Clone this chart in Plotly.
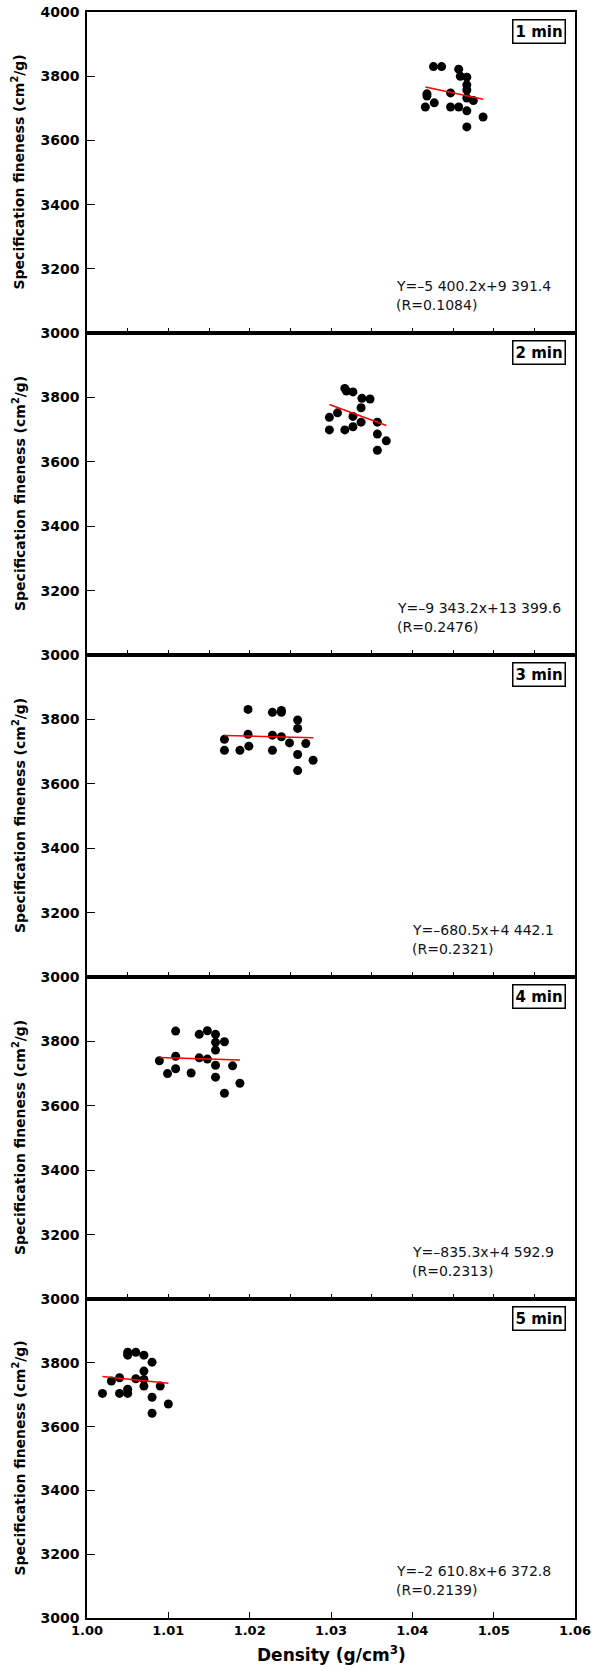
import plotly.graph_objects as go

# ---------------- data ----------------
panel_labels = ["1 min", "2 min", "3 min", "4 min", "5 min"]

dens_1min = [1.0426, 1.0436, 1.0457, 1.0459, 1.0467, 1.0467, 1.0467, 1.0418, 1.0418, 1.0447,
             1.0467, 1.0475, 1.0427, 1.0416, 1.0447, 1.0457, 1.0467, 1.0487, 1.0467]
fine_1min = [3830, 3830, 3822, 3800, 3797, 3773, 3757, 3745, 3738, 3748,
             3732, 3724, 3717, 3704, 3704, 3704, 3692, 3673, 3642]

dens_2min = [1.0317, 1.0319, 1.0327, 1.0338, 1.0348, 1.0337, 1.0298, 1.0308, 1.0327, 1.0337,
             1.0357, 1.0298, 1.0317, 1.0327, 1.0357, 1.0368, 1.0357]
fine_2min = [3828, 3820, 3817, 3797, 3795, 3768, 3738, 3752, 3741, 3723,
             3723, 3699, 3699, 3709, 3686, 3665, 3636]

dens_3min = [1.0198, 1.0228, 1.0239, 1.0239, 1.0259, 1.0259, 1.0169, 1.0198, 1.0228, 1.0239,
             1.0249, 1.0269, 1.0169, 1.0188, 1.0199, 1.0228, 1.0259, 1.0278, 1.0259]
fine_3min = [3831, 3822, 3828, 3822, 3798, 3772, 3738, 3754, 3751, 3746,
             3727, 3725, 3704, 3704, 3717, 3704, 3691, 3673, 3641]

dens_4min = [1.0109, 1.0138, 1.0148, 1.0158, 1.0158, 1.0169, 1.0158, 1.0089, 1.0109, 1.0138,
             1.0148, 1.0158, 1.0179, 1.0099, 1.0109, 1.0128, 1.0158, 1.0188, 1.0169]
fine_4min = [3832, 3822, 3833, 3822, 3797, 3799, 3773, 3740, 3754, 3749,
             3745, 3726, 3724, 3700, 3715, 3702, 3689, 3670, 3639]

dens_5min = [1.0050, 1.0050, 1.0060, 1.0070, 1.0080, 1.0070, 1.0030, 1.0040, 1.0060, 1.0070,
             1.0070, 1.0090, 1.0019, 1.0040, 1.0050, 1.0050, 1.0080, 1.0100, 1.0080]
fine_5min = [3833, 3824, 3833, 3824, 3802, 3774, 3743, 3753, 3750, 3748,
             3727, 3727, 3704, 3704, 3717, 3704, 3692, 3671, 3642]

slopes = [-5400.2, -9343.2, -680.5, -835.3, -2610.8]
intercepts = [9391.4, 13399.6, 4442.1, 4592.9, 6372.8]
eq_texts = ["Y=–5 400.2x+9 391.4", "Y=–9 343.2x+13 399.6", "Y=–680.5x+4 442.1",
            "Y=–835.3x+4 592.9", "Y=–2 610.8x+6 372.8"]
r_texts = ["(R=0.1084)", "(R=0.2476)", "(R=0.2321)", "(R=0.2313)", "(R=0.2139)"]

x_ticks = [1.00, 1.01, 1.02, 1.03, 1.04, 1.05, 1.06]
x_ticklabels = ["1.00", "1.01", "1.02", "1.03", "1.04", "1.05", "1.06"]
y_ticks = [3000, 3200, 3400, 3600, 3800, 4000]

dens_all = [dens_1min, dens_2min, dens_3min, dens_4min, dens_5min]
fine_all = [fine_1min, fine_2min, fine_3min, fine_4min, fine_5min]

# ---------------- layout geometry (pixels) ----------------
W, H = 592, 1671
ML, MR, MT, MB = 87, 17, 12, 53
plot_h = H - MT - MB
bounds = [12, 333, 655, 977, 1299, 1618]
eq_x = [394, 395, 410, 410, 394]

def py(p):  # pixel y -> paper fraction
    return (H - MB - p) / plot_h

def px(p):
    return (p - ML) / (W - ML - MR)

fig = go.Figure()
YTICKFONT = dict(family="DejaVu Sans", size=14, color="black", weight="bold")
XTICKFONT = dict(family="DejaVu Sans", size=13, color="black", weight="bold")

layout = dict(width=W, height=H, margin=dict(l=ML, r=MR, t=MT, b=MB, autoexpand=False),
              paper_bgcolor="white", plot_bgcolor="white", showlegend=False)
annotations = []

for i in range(5):
    n = "" if i == 0 else str(i + 1)
    xa, ya = "x" + n, "y" + n
    d, f = dens_all[i], fine_all[i]
    fig.add_trace(go.Scatter(x=d, y=f, mode="markers", xaxis=xa, yaxis=ya,
                             marker=dict(color="black", size=9, symbol="circle")))
    x0, x1 = min(d), max(d)
    fig.add_trace(go.Scatter(x=[x0, x1],
                             y=[slopes[i] * x0 + intercepts[i], slopes[i] * x1 + intercepts[i]],
                             mode="lines", xaxis=xa, yaxis=ya,
                             line=dict(color="red", width=1.5)))
    top, bot = bounds[i], bounds[i + 1]
    last = (i == 4)
    xaxis = dict(domain=[0, 1], range=[1.0, 1.06], anchor=ya,
                 showline=True, mirror=True, linecolor="black", linewidth=1.5,
                 showgrid=False, zeroline=False, automargin=False,
                 ticks="inside", ticklen=6 if last else 5, tickcolor="black", tickwidth=1,
                 tickmode="array",
                 tickvals=x_ticks if last else [1.0 + 0.005 * k for k in range(13)],
                 ticktext=x_ticklabels if last else None,
                 showticklabels=last, tickfont=XTICKFONT, ticklabeloverflow="allow")
    yvals = y_ticks if i == 0 else y_ticks[:-1]
    yaxis = dict(domain=[py(bot), py(top)], range=[3000, 4000], anchor=xa,
                 showline=True, mirror=True, linecolor="black", linewidth=1.5,
                 showgrid=False, zeroline=False, automargin=False,
                 ticks="inside", ticklen=8, tickcolor="black", tickwidth=1,
                 tickmode="array", tickvals=yvals, ticktext=[str(v) for v in yvals],
                 tickfont=YTICKFONT, ticklabeloverflow="allow", ticklabelstandoff=3)
    layout["xaxis" + n] = xaxis
    layout["yaxis" + n] = yaxis

    # panel label box
    annotations.append(dict(xref="paper", yref="paper", x=px(566), y=py(top + 7),
                            xanchor="right", yanchor="top", showarrow=False,
                            text="<b>" + panel_labels[i] + "</b>",
                            font=dict(family="DejaVu Sans", size=15, color="black"),
                            bordercolor="black", borderwidth=1.5, borderpad=2,
                            bgcolor="white"))
    # equation texts
    annotations.append(dict(xref="paper", yref="paper", x=px(eq_x[i]), y=py(bot - 47),
                            xanchor="left", yanchor="middle", showarrow=False,
                            text=eq_texts[i],
                            font=dict(family="DejaVu Sans", size=14, color="#111122")))
    annotations.append(dict(xref="paper", yref="paper", x=px(eq_x[i]), y=py(bot - 28),
                            xanchor="left", yanchor="middle", showarrow=False,
                            text=r_texts[i],
                            font=dict(family="DejaVu Sans", size=14, color="#111122")))
    # y axis title
    annotations.append(dict(xref="paper", yref="paper", x=px(19), y=py((top + bot) / 2),
                            xanchor="center", yanchor="middle", showarrow=False,
                            textangle=-90,
                            text="Specification fineness (cm<sup>2</sup>/g)",
                            font=dict(family="DejaVu Sans", size=14, color="black",
                                      weight="bold")))

annotations.append(dict(xref="paper", yref="paper", x=px(331), y=py(1654),
                        xanchor="center", yanchor="middle", showarrow=False,
                        text="Density (g/cm<sup>3</sup>)",
                        font=dict(family="DejaVu Sans", size=17, color="black", weight="bold")))
layout["annotations"] = annotations
fig.update_layout(**layout)
fig.write_html("out.html", config={"displayModeBar": False},
               post_script="document.body.style.margin='0px';")
